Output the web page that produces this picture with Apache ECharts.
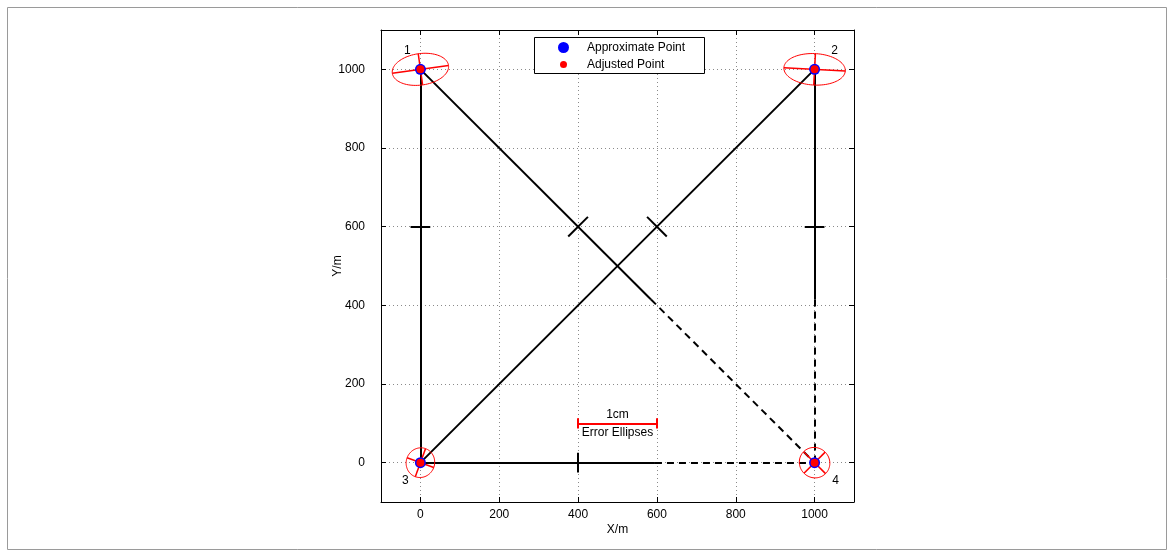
<!DOCTYPE html>
<html><head><meta charset="utf-8">
<script src="https://cdn.jsdelivr.net/npm/echarts@6/dist/echarts.min.js"></script>
<style>html,body{margin:0;padding:0;background:#fff}#c{width:1174px;height:557px}</style>
</head><body><div id="c"></div>
<script>
// ---- data ----
const pointNames = ['1', '2', '3', '4'];
const approxX = [0, 1000, 0, 1000];
const approxY = [1000, 1000, 0, 0];
const adjX = [0, 1000, 0, 1000];
const adjY = [1000, 1000, 0, 0];
// error ellipses (cm on the scale bar): semi-major, semi-minor, major-axis angle (deg from +X, CCW)
const ellA = [0.36, 0.39, 0.19, 0.197];
const ellB = [0.20, 0.20, 0.18, 0.19];
const ellAngle = [8, -3, 70, 135];
const metresPerCm = 200;
// observations (indices into the point lists)
const obsFrom = [0, 1, 0, 2, 1];
const obsTo = [2, 2, 3, 3, 3];
const obsSolidFrac = [1, 1, 0.585, 0.595, 0.585];
const obsCrossFrac = [0.4, 0.4, 0.4, 0.4, 0.4];
const scaleBarX = [400, 600];
const scaleBarY = 100;
const xTicks = [0, 200, 400, 600, 800, 1000];
const yTicks = [0, 200, 400, 600, 800, 1000];
const axisMin = -100, axisMax = 1100;

// ---- styles ----
const FONT = "'Liberation Sans', Arial, Helvetica, sans-serif";
const labelOffsets = [[-13, -19], [20, -19], [-15, 18], [21, 18]];
const crossHalf = 25;
const scaleTickHalf = 13;

// ---- build marks ----
const solidSegs = [], dashSegs = [], crossSegs = [];
for (let k = 0; k < obsFrom.length; k++) {
  const px = approxX[obsFrom[k]], py = approxY[obsFrom[k]];
  const qx = approxX[obsTo[k]], qy = approxY[obsTo[k]];
  const dx = qx - px, dy = qy - py;
  const s = obsSolidFrac[k];
  const mx = px + dx * s, my = py + dy * s;
  solidSegs.push({coords: [[px, py], [mx, my]]});
  if (s < 1) dashSegs.push({coords: [[mx, my], [qx, qy]]});
  const len = Math.hypot(dx, dy);
  const nx = -dy / len, ny = dx / len;
  const h = crossHalf * (Math.abs(nx) + Math.abs(ny));
  const cx = px + dx * obsCrossFrac[k], cy = py + dy * obsCrossFrac[k];
  crossSegs.push({coords: [[cx - nx * h, cy - ny * h], [cx + nx * h, cy + ny * h]]});
}
const scaleSegs = [
  {coords: [[scaleBarX[0], scaleBarY], [scaleBarX[1], scaleBarY]]},
  {coords: [[scaleBarX[0], scaleBarY - scaleTickHalf], [scaleBarX[0], scaleBarY + scaleTickHalf]]},
  {coords: [[scaleBarX[1], scaleBarY - scaleTickHalf], [scaleBarX[1], scaleBarY + scaleTickHalf]]}
];
const ellData = pointNames.map((n, i) => [adjX[i], adjY[i], ellA[i], ellB[i], ellAngle[i]]);
const approxData = pointNames.map((n, i) => [approxX[i], approxY[i]]);
const adjData = pointNames.map((n, i) => [adjX[i], adjY[i]]);
const nameData = pointNames.map((n, i) => ({
  value: [approxX[i], approxY[i]], name: n,
  label: {offset: labelOffsets[i]}
}));

function renderEllipse(params, api) {
  const cx = api.value(0), cy = api.value(1);
  const a = api.value(2) * metresPerCm, b = api.value(3) * metresPerCm;
  const th = api.value(4) * Math.PI / 180;
  const c = Math.cos(th), s = Math.sin(th);
  const pts = [];
  for (let k = 0; k <= 90; k++) {
    const t = 2 * Math.PI * k / 90;
    const ex = a * Math.cos(t), ey = b * Math.sin(t);
    pts.push(api.coord([cx + ex * c - ey * s, cy + ex * s + ey * c]));
  }
  const m1 = api.coord([cx - a * c, cy - a * s]), m2 = api.coord([cx + a * c, cy + a * s]);
  const n1 = api.coord([cx + b * s, cy - b * c]), n2 = api.coord([cx - b * s, cy + b * c]);
  return {
    type: 'group',
    children: [
      {type: 'polyline', shape: {points: pts}, style: {stroke: '#ff0000', fill: null, lineWidth: 1}},
      {type: 'line', shape: {x1: m1[0], y1: m1[1], x2: m2[0], y2: m2[1]}, style: {stroke: '#ff0000', lineWidth: 1.5}},
      {type: 'line', shape: {x1: n1[0], y1: n1[1], x2: n2[0], y2: n2[1]}, style: {stroke: '#ff0000', lineWidth: 1.5}}
    ]
  };
}

const axisCommon = {
  type: 'value', min: axisMin, max: axisMax,
  axisLine: {onZero: false, lineStyle: {color: '#000', width: 1}},
  nameMoveOverlap: false,
  nameTextStyle: {color: '#000', fontSize: 12, fontFamily: FONT}
};
const plainNum = v => String(v);

const chart = echarts.init(document.getElementById('c'), null, {renderer: 'canvas'});
chart.setOption({
  backgroundColor: '#fff',
  animation: false,
  textStyle: {fontFamily: FONT},
  grid: {left: 381, right: 320, top: 30, bottom: 55, containLabel: false},
  xAxis: [
    Object.assign({}, axisCommon, {
      position: 'bottom', name: 'X/m', nameLocation: 'middle', nameGap: 22,
      axisTick: {inside: true, length: 5, customValues: xTicks, lineStyle: {color: '#000'}},
      axisLabel: {customValues: xTicks, formatter: plainNum, color: '#000', fontSize: 12, margin: 7, fontFamily: FONT},
      splitLine: {show: true, lineStyle: {type: [1, 3], color: '#8a8a8a', width: 1}}
    }),
    Object.assign({}, axisCommon, {
      position: 'top',
      axisTick: {inside: true, length: 5, customValues: xTicks, lineStyle: {color: '#000'}},
      axisLabel: {show: false}, splitLine: {show: false}
    })
  ],
  yAxis: [
    Object.assign({}, axisCommon, {
      position: 'left', name: 'Y/m', nameLocation: 'middle', nameGap: 37,
      axisTick: {inside: true, length: 5, customValues: yTicks, lineStyle: {color: '#000'}},
      axisLabel: {customValues: yTicks, formatter: plainNum, color: '#000', fontSize: 12, margin: 16, fontFamily: FONT},
      splitLine: {show: true, lineStyle: {type: [1, 3], color: '#8a8a8a', width: 1}}
    }),
    Object.assign({}, axisCommon, {
      position: 'right',
      axisTick: {inside: true, length: 5, customValues: yTicks, lineStyle: {color: '#000'}},
      axisLabel: {show: false}, splitLine: {show: false}
    })
  ],
  graphic: [
    {type: 'rect', z: 100, silent: true, shape: {x: 534.5, y: 37.5, width: 170, height: 36},
      style: {fill: '#fff', stroke: '#000', lineWidth: 1}},
    {type: 'rect', z: 100, silent: true, shape: {x: 7.5, y: 7.5, width: 1159, height: 542},
      style: {fill: null, stroke: '#9a9a9a', lineWidth: 1}}
  ],
  legend: [
    {data: [{name: 'Approximate Point', icon: 'circle', itemStyle: {opacity: 1}}], selectedMode: false, z: 110,
      left: 558, top: 41.5, padding: 0, itemWidth: 37, itemHeight: 11,
      textStyle: {color: '#000', fontSize: 12, fontFamily: FONT}},
    {data: [{name: 'Adjusted Point', icon: 'circle', itemStyle: {opacity: 1}}], selectedMode: false, z: 110,
      left: 560, top: 58.5, padding: 0, itemWidth: 37, itemHeight: 7,
      textStyle: {color: '#000', fontSize: 12, fontFamily: FONT}}
  ],
  series: [
    {type: 'lines', name: 'solid', coordinateSystem: 'cartesian2d', z: 3, silent: true,
      lineStyle: {color: '#000', width: 2, opacity: 1}, data: solidSegs},
    {type: 'lines', name: 'dashed', coordinateSystem: 'cartesian2d', z: 3, silent: true,
      lineStyle: {color: '#000', width: 2, type: [7, 5], opacity: 1}, data: dashSegs},
    {type: 'lines', name: 'cross', coordinateSystem: 'cartesian2d', z: 3, silent: true,
      lineStyle: {color: '#000', width: 2, opacity: 1}, data: crossSegs},
    {type: 'lines', name: 'scale', coordinateSystem: 'cartesian2d', z: 3, silent: true,
      lineStyle: {color: '#ff0000', width: 2, opacity: 1}, data: scaleSegs},
    {type: 'scatter', name: 'scaleText', z: 3, silent: true, symbolSize: 0, itemStyle: {opacity: 1},
      data: [
        {value: [(scaleBarX[0] + scaleBarX[1]) / 2, scaleBarY], label: {show: true, position: 'top', distance: 3, formatter: '1cm'}},
        {value: [(scaleBarX[0] + scaleBarX[1]) / 2, scaleBarY], label: {show: true, position: 'bottom', distance: 3, formatter: 'Error Ellipses'}}
      ],
      label: {color: '#000', fontSize: 12, fontFamily: FONT, opacity: 1}},
    {type: 'custom', name: 'ellipses', z: 4, silent: true, renderItem: renderEllipse, data: ellData},
    {type: 'scatter', name: 'Approximate Point', z: 5, symbol: 'circle', symbolSize: 11,
      itemStyle: {color: '#0000ff', opacity: 1}, data: approxData},
    {type: 'scatter', name: 'Adjusted Point', z: 6, symbol: 'circle', symbolSize: 8,
      itemStyle: {color: '#ff0000', opacity: 1}, data: adjData},
    {type: 'scatter', name: 'pointNames', z: 7, silent: true, symbolSize: 0, itemStyle: {opacity: 1}, data: nameData,
      label: {show: true, position: 'inside', formatter: p => p.name, color: '#000', fontSize: 12, fontFamily: FONT, opacity: 1}}
  ]
});
</script>
</body></html>
